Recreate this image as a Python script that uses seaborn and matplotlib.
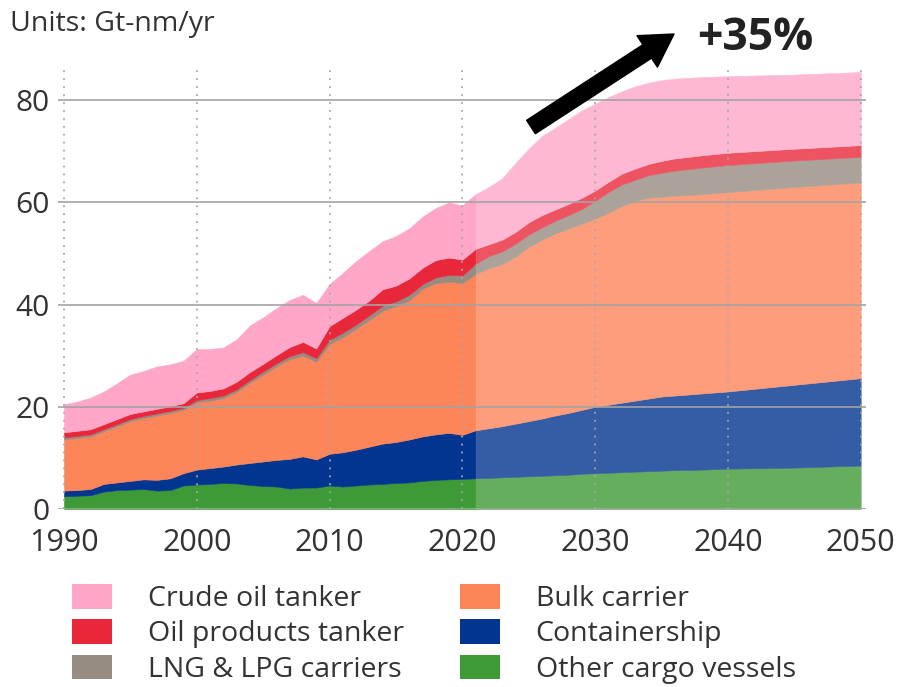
import matplotlib
matplotlib.use("Agg")
import numpy as np
import pandas as pd
import seaborn as sns
import matplotlib.pyplot as plt
from matplotlib.patches import Patch
from matplotlib.colors import to_rgb

# ---- data (Gt-nm per year), stacked bottom -> top ----
hist_years = list(range(1990, 2022))
proj_years = list(range(2021, 2037)) + [2038, 2040, 2045, 2050]

series_names = ["Other cargo vessels", "Containership", "Bulk carrier",
                "LNG & LPG carriers", "Oil products tanker", "Crude oil tanker"]

hist_other = [2.5, 2.6, 2.7, 3.4, 3.7, 3.8, 3.9, 3.6, 3.7, 4.6, 4.8, 4.9, 5.1, 5.0, 4.7, 4.5,
              4.4, 4.0, 4.2, 4.2, 4.6, 4.4, 4.6, 4.8, 4.9, 5.1, 5.2, 5.5, 5.7, 5.8, 5.9, 6.0]
hist_container = [1.1, 1.1, 1.2, 1.5, 1.5, 1.7, 1.9, 2.1, 2.3, 2.4, 2.9, 3.1, 3.2, 3.7, 4.3, 4.8,
                  5.2, 5.8, 6.1, 5.5, 6.2, 6.7, 7.0, 7.4, 7.9, 8.0, 8.4, 8.7, 8.9, 9.1, 8.6, 9.4]
hist_bulk = [10.0, 10.2, 10.3, 10.3, 11.0, 11.7, 12.0, 12.6, 12.8, 12.4, 13.2, 13.2, 13.4, 14.2,
             15.7, 17.0, 18.3, 19.5, 19.7, 19.1, 21.5, 22.5, 23.7, 24.8, 26.0, 26.6, 27.2, 28.9,
             29.6, 29.6, 29.7, 30.6]
hist_lng = [0.4, 0.4, 0.4, 0.4, 0.4, 0.4, 0.4, 0.4, 0.4, 0.4, 0.4, 0.5, 0.5, 0.5, 0.5, 0.6,
            0.6, 0.6, 0.7, 0.7, 0.8, 0.9, 0.8, 0.9, 1.0, 0.9, 1.1, 0.9, 1.1, 1.3, 1.5, 2.0]
hist_oilprod = [1.0, 1.0, 1.0, 1.0, 1.0, 1.0, 0.9, 0.9, 0.9, 0.9, 1.5, 1.4, 1.4, 1.5, 1.6, 1.5,
                1.6, 1.8, 2.0, 1.9, 2.7, 2.9, 2.9, 2.9, 3.2, 3.1, 3.2, 3.2, 3.4, 3.4, 3.1, 2.9]
hist_crude = [5.5, 5.7, 6.2, 6.4, 7.0, 7.7, 7.9, 8.3, 8.2, 8.3, 8.5, 8.2, 8.0, 8.3, 9.1, 9.1,
              9.2, 9.2, 9.2, 8.9, 8.2, 8.8, 9.5, 9.7, 9.4, 9.7, 9.8, 10.0, 10.2, 10.8, 10.6, 10.7]

proj_other = [6.0, 6.1, 6.2, 6.3, 6.4, 6.5, 6.6, 6.7, 6.9, 7.0, 7.1, 7.2, 7.3, 7.4, 7.5, 7.6,
              7.7, 7.9, 8.1, 8.5]
proj_container = [9.4, 9.7, 10.0, 10.4, 10.8, 11.2, 11.7, 12.1, 12.5, 13.0, 13.3, 13.6, 13.9,
                  14.2, 14.5, 14.6, 14.9, 15.1, 16.2, 17.1]
proj_bulk = [30.6, 31.3, 31.7, 32.7, 34.1, 35.0, 35.6, 36.1, 36.4, 36.8, 37.6, 38.5, 39.1, 39.3,
             39.1, 39.1, 39.0, 39.0, 38.7, 38.3]
proj_lng = [2.0, 2.4, 2.5, 2.5, 2.4, 2.4, 2.5, 2.6, 2.9, 3.5, 4.0, 4.2, 4.1, 4.4, 4.7, 4.9,
            5.2, 5.3, 5.2, 5.0]
proj_oilprod = [2.9, 2.3, 2.3, 2.3, 2.4, 2.4, 2.2, 2.2, 2.2, 2.0, 2.0, 2.1, 2.2, 2.2, 2.3, 2.4,
                2.4, 2.4, 2.3, 2.3]
proj_crude = [10.7, 11.2, 12.0, 13.5, 14.4, 15.5, 16.0, 16.6, 17.1, 17.0, 16.6, 16.1, 16.1,
              15.9, 15.8, 15.6, 15.3, 15.0, 14.5, 14.3]

hist = pd.DataFrame(dict(zip(series_names, [hist_other, hist_container, hist_bulk, hist_lng,
                                            hist_oilprod, hist_crude])), index=hist_years)
proj = pd.DataFrame(dict(zip(series_names, [proj_other, proj_container, proj_bulk, proj_lng,
                                            proj_oilprod, proj_crude])), index=proj_years)

colors = ["#3d9a36", "#013590", "#fd855a", "#968c81", "#e8283a", "#ffa6c9"]


def lighten(c, amount=0.2):
    r = np.array(to_rgb(c))
    return tuple(r * (1 - amount) + amount)


# ---- style ----
sns.set_theme(style="white")
plt.rcParams["font.family"] = ["Open Sans", "DejaVu Sans"]
text_color = "#333333"

fig = plt.figure(figsize=(8.99, 6.87), dpi=100)
ax = fig.add_axes([58 / 899, 178 / 687, 808 / 899, 439 / 687])


def draw_stack(df, palette):
    base = np.zeros(len(df))
    for name, col in zip(series_names, palette):
        top = base + df[name].to_numpy()
        ax.fill_between(df.index, base, top, color=col, edgecolor=col, linewidth=0.4, zorder=1)
        base = top


draw_stack(hist, colors)
draw_stack(proj, [lighten(c) for c in colors])

ax.set_xlim(1989.55, 2050.4)
ax.set_ylim(0, 85.9)
ax.set_xticks(range(1990, 2051, 10))
ax.set_yticks([0, 20, 40, 60, 80])
ax.set_axisbelow(False)
ax.yaxis.grid(True, color="#a3a3a3", linewidth=1.2, linestyle="-")
ax.xaxis.grid(True, color="#a8a8a8", linewidth=1.3, linestyle=(0, (1, 3.4)))
ax.tick_params(axis="both", length=0, labelcolor=text_color)
ax.tick_params(axis="x", pad=13.5, labelsize=22)
ax.tick_params(axis="y", pad=6, labelsize=21.5)
sns.despine(ax=ax, left=True, bottom=True, top=True, right=True)
ax.set_facecolor("white")

# ---- annotations ----
fig.text(10 / 899, 1 - 31 / 687, "Units: Gt-nm/yr", fontsize=20.5, color=text_color,
         ha="left", va="baseline")
fig.text(697 / 899, 1 - 50 / 687, "+35%", fontsize=32, fontweight="bold",
         color="#222222", ha="left", va="baseline")
ax.annotate("", xy=(674, 687 - 34), xycoords="figure pixels",
            xytext=(531, 687 - 127), textcoords="figure pixels",
            arrowprops=dict(arrowstyle="simple,head_length=2.3,head_width=2.7,tail_width=1.15",
                            mutation_scale=10, color="black", shrinkA=0, shrinkB=0))

# ---- legend ----
legend_order = ["Crude oil tanker", "Oil products tanker", "LNG & LPG carriers",
                "Bulk carrier", "Containership", "Other cargo vessels"]
color_of = dict(zip(series_names, colors))
handles = [Patch(facecolor=color_of[n], edgecolor="none", label=n) for n in legend_order]
fig.legend(handles=handles, ncol=2, loc="upper left", bbox_to_anchor=(64 / 899, 1 - 576 / 687),
           frameon=False, fontsize=20.5, handlelength=1.4, handleheight=0.95,
           handletextpad=1.26, labelspacing=0.22, columnspacing=1.97, labelcolor=text_color,
           borderaxespad=0, borderpad=0.28)

fig.savefig("out.png", dpi=100, facecolor="white")
